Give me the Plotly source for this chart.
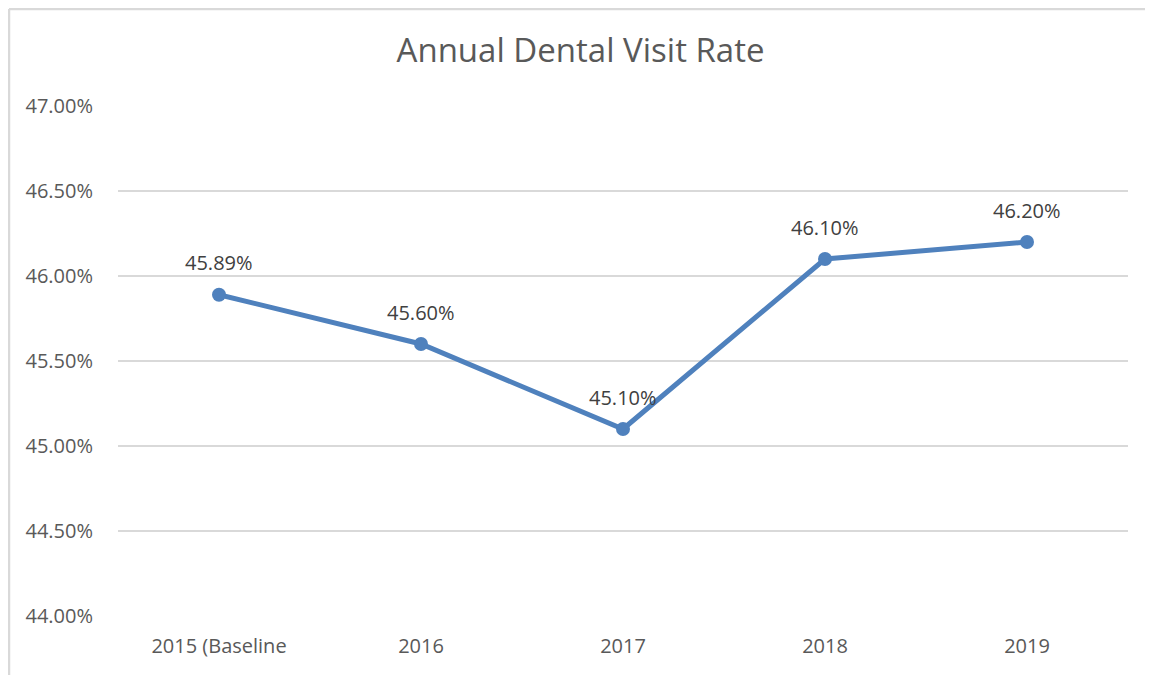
import plotly.graph_objects as go

categories = ["2015 (Baseline", "2016", "2017", "2018", "2019"]
values = [45.89, 45.60, 45.10, 46.10, 46.20]
labels = ["45.89%", "45.60%", "45.10%", "46.10%", "46.20%"]
y_ticks = [44.0, 44.5, 45.0, 45.5, 46.0, 46.5, 47.0]
y_tick_labels = ["44.00%", "44.50%", "45.00%", "45.50%", "46.00%", "46.50%", "47.00%"]

FONT = "Open Sans"
GREY = "#595959"
BLUE = "#4F81BD"

W, H = 1145, 667
L, R, T, B = 110, 25, 98, 59
PW, PH = W - L - R, H - T - B

fig = go.Figure()
fig.add_trace(go.Scatter(
    x=list(range(len(categories))), y=values, mode="lines+markers",
    line=dict(color=BLUE, width=5),
    marker=dict(color=BLUE, size=14),
    hoverinfo="skip",
))

for i, (v, t) in enumerate(zip(values, labels)):
    fig.add_annotation(x=i, y=v, text=t, showarrow=False, yshift=32,
                       font=dict(family=FONT, size=20, color="#404040"))

x_left = -(L - 1) / PW
y_top = 1 + (T - 1) / PH

fig.update_layout(
    width=W, height=H,
    margin=dict(l=L, r=R, t=T, b=B),
    paper_bgcolor="white", plot_bgcolor="white",
    showlegend=False,
    title=dict(text="Annual Dental Visit Rate", x=0.5, xref="container", xanchor="center",
               y=1 - 42 / H, yanchor="middle",
               font=dict(family=FONT, size=33, color=GREY)),
    xaxis=dict(range=[-0.5, 4.5], tickvals=list(range(len(categories))),
               ticktext=categories, showgrid=False, zeroline=False,
               showline=False, ticks="", ticklabelstandoff=16,
               tickfont=dict(family=FONT, size=20, color=GREY)),
    yaxis=dict(range=[44.0, 47.0], tickvals=y_ticks, ticktext=y_tick_labels,
               showgrid=True, gridcolor="#D9D9D9", gridwidth=1.5, zeroline=False,
               showline=False, ticks="", ticklabelstandoff=24,
               tickfont=dict(family=FONT, size=20, color=GREY)),
    shapes=[
        dict(type="line", xref="paper", yref="paper",
             x0=x_left, x1=x_left, y0=-0.5, y1=y_top,
             line=dict(color="#D9D9D9", width=2.5), layer="below"),
        dict(type="line", xref="paper", yref="paper",
             x0=x_left, x1=1.5, y0=y_top, y1=y_top,
             line=dict(color="#D9D9D9", width=2.5), layer="below"),
    ],
)

fig.write_html("out.html")
